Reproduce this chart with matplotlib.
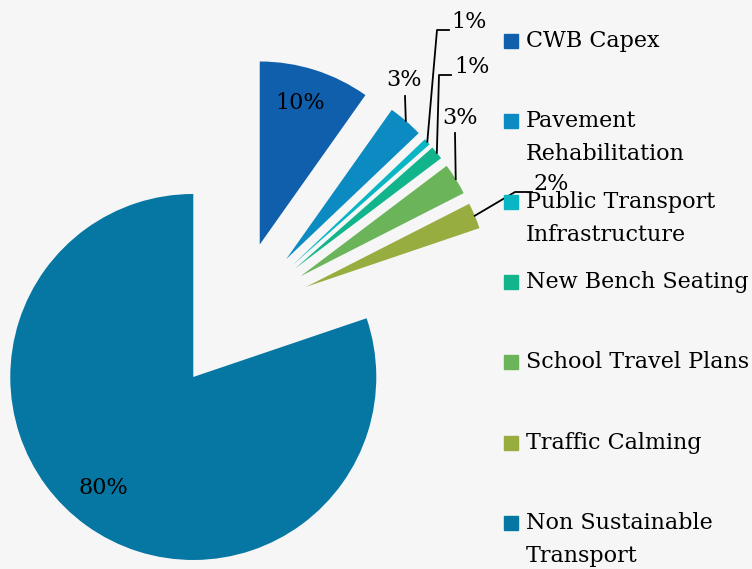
import numpy as np
import matplotlib.pyplot as plt
from matplotlib.patches import Rectangle

# data
categories = ['CWB Capex', 'Pavement\nRehabilitation', 'Public Transport\nInfrastructure',
              'New Bench Seating', 'School Travel Plans', 'Traffic Calming',
              'Non Sustainable\nTransport']
shares = [9.8, 3.1, 0.6, 1.2, 2.8, 2.3, 80.2]
colors = ['#0f5fad', '#0b8bc1', '#0ab6c3', '#12b58b', '#6bb45a', '#97ad40', '#0677a2']

W, H = 752, 569
CX, CY, R = 237, 316, 183  # pie centre and radius, pixels
FONT = 'DejaVu Serif'
FS = 16


def px(x, y):
    # pixel (from top-left) -> pie data units
    return (x - CX) / R, (CY - y) / R


fig = plt.figure(figsize=(W / 100, H / 100), dpi=100, facecolor='#f6f6f6')
ax = fig.add_axes([0, 0, 1, 1])
ax.set_facecolor('#f6f6f6')
wedges, _ = ax.pie(shares, colors=colors, startangle=90, counterclock=False,
                   explode=[0.41] * len(shares), radius=1, center=(0, 0),
                   wedgeprops=dict(linewidth=0))
ax.set_xlim(-CX / R, (W - CX) / R)
ax.set_ylim(-(H - CY) / R, CY / R)
ax.axis('off')

# labels inside the big slices
inside = {0: (300, 103), 6: (103, 488)}
for i, (x, y) in inside.items():
    ax.text(*px(x, y), '{:.0f}%'.format(shares[i]), ha='center', va='center',
            fontsize=FS, family=FONT, color='black')

# labels with leader lines: (text pos, ha, elbow points)
outside = {
    1: ((404, 80), 'center', [(405, 96)]),
    2: ((451, 22), 'left', [(437, 30), (449, 30)]),
    3: ((454, 67), 'left', [(439, 75), (451, 75)]),
    4: ((460, 118), 'center', [(455, 133)]),
    5: ((533, 184), 'left', [(515, 192), (532, 192)]),
}
for i, (tpos, ha, elbow) in outside.items():
    w = wedges[i]
    th = np.deg2rad((w.theta1 + w.theta2) / 2)
    sx = w.center[0] + w.r * np.cos(th)
    sy = w.center[1] + w.r * np.sin(th)
    pts = [(sx, sy)] + [px(*p) for p in elbow]
    ax.plot([p[0] for p in pts], [p[1] for p in pts], color='black', lw=1.3, zorder=3)
    ax.text(*px(*tpos), '{:.0f}%'.format(shares[i]), ha=ha, va='center',
            fontsize=FS, family=FONT, color='black', zorder=3)

# legend
for i, (name, c) in enumerate(zip(categories, colors)):
    y = 41 + i * 80.3
    fig.add_artist(Rectangle((504 / W, 1 - (y + 7) / H), 14 / W, 14 / H,
                             transform=fig.transFigure, color=c, zorder=5))
    for j, line in enumerate(name.split('\n')):
        fig.text(526 / W, 1 - (y + j * 33) / H, line, ha='left', va='center',
                 fontsize=FS, family=FONT, color='black', zorder=5)

fig.savefig('out.png', dpi=100, facecolor=fig.get_facecolor())
